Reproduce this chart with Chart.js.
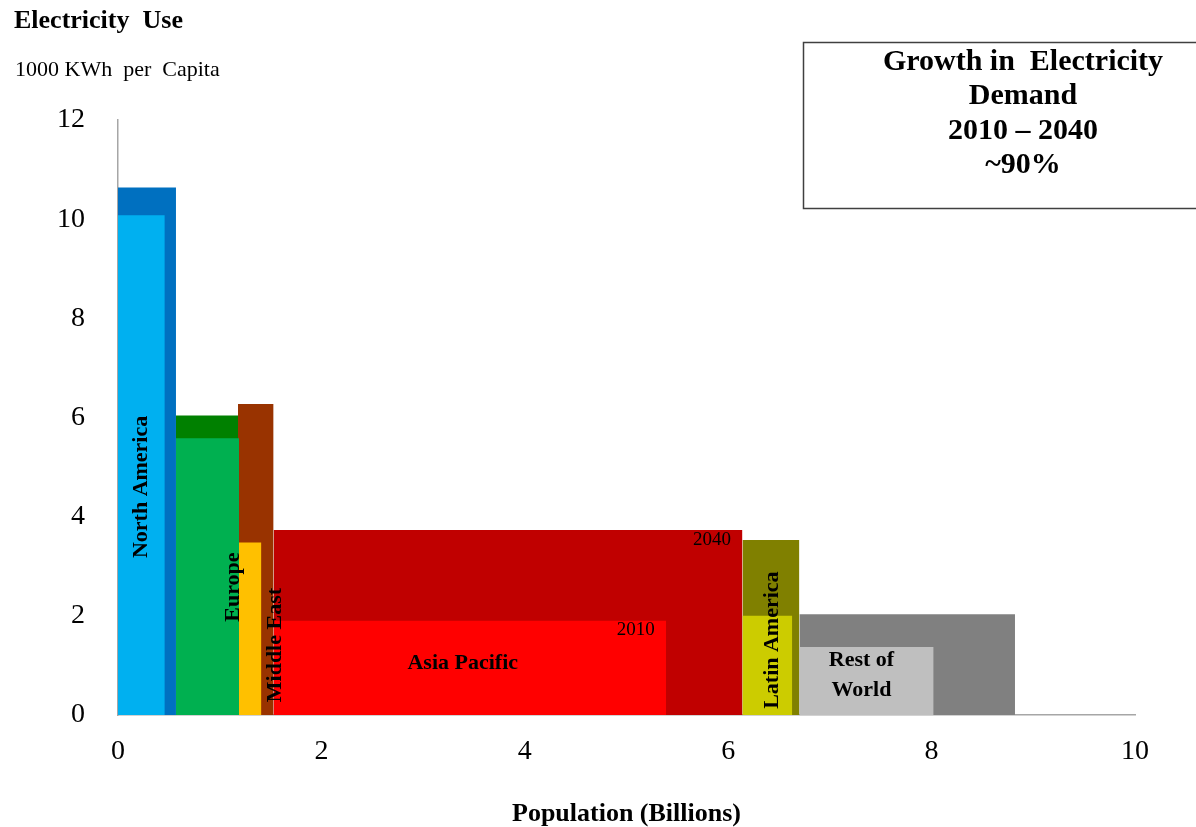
<!DOCTYPE html>
<html lang="en">
<head>
    <meta charset="UTF-8">
    <title>Electricity Use per Capita vs Population</title>
    <script src="https://cdn.jsdelivr.net/npm/chart.js"></script>
    <style>
        html, body { margin: 0; padding: 0; background: #fff; }
        .chart-box { width: 1196px; height: 827px; }
    </style>
</head>
<body>

<div class="chart-box">
    <canvas id="myChart" width="1196" height="827"></canvas>
</div>

<script>
    // regions, population (billions) and electricity use (1000 KWh per capita)
    const regions = ["North America", "Europe", "Middle East", "Asia Pacific", "Latin America", "Rest of World"];
    const pop2040 = [0.57, 0.61, 0.35, 4.61, 0.56, 2.12];
    const pop2010 = [0.46, 0.62, 0.23, 3.86, 0.49, 1.32];
    const use2040 = [10.64, 6.04, 6.27, 3.73, 3.53, 2.03];
    const use2010 = [10.08, 5.58, 3.48, 1.90, 2.00, 1.37];

    const xTicks = [0, 2, 4, 6, 8, 10];
    const yTicks = [0, 2, 4, 6, 8, 10, 12];

    const colors2040 = ["#0070C0", "#008000", "#993300", "#C00000", "#808000", "#808080"];
    const colors2010 = ["#00B0F0", "#00B050", "#FFC000", "#FF0000", "#CCCC00", "#BFBFBF"];

    const serif = '"Liberation Serif", "Times New Roman", serif';

    // each region starts where the previous 2040 block ends
    const starts = [];
    let acc = 0;
    pop2040.forEach(p => { starts.push(acc); acc += p; });

    function block(x0, w, h) {
        return [{x: x0, y: 0}, {x: x0, y: h}, {x: x0 + w, y: h}, {x: x0 + w, y: 0}];
    }

    const datasets = [];
    regions.forEach((name, i) => {
        datasets.push({
            label: name + " 2040",
            data: block(starts[i], pop2040[i], use2040[i]),
            backgroundColor: colors2040[i],
            order: 2
        });
        datasets.push({
            label: name + " 2010",
            data: block(starts[i], pop2010[i], use2010[i]),
            backgroundColor: colors2010[i],
            order: 1
        });
    });
    datasets.forEach(d => {
        d.fill = 'origin';
        d.borderWidth = 0;
        d.pointRadius = 0;
        d.tension = 0;
    });

    // text placed in data units
    const regionLabels = [
        {text: ["North America"], x: 0.23, y: 4.6, rotate: true, bold: true},
        {text: ["Europe"], x: 1.135, y: 2.58, rotate: true, bold: true},
        {text: ["Middle East"], x: 1.55, y: 1.41, rotate: true, bold: true},
        {text: ["Latin America"], x: 6.43, y: 1.51, rotate: true, bold: true},
        {text: ["Asia Pacific"], x: 3.39, y: 1.05, rotate: false, bold: true},
        {text: ["Rest of", "World"], x: 7.31, y: 0.81, rotate: false, bold: true},
        {text: ["2040"], x: 5.84, y: 3.53, rotate: false, bold: false},
        {text: ["2010"], x: 5.09, y: 1.71, rotate: false, bold: false}
    ];

    const annotations = {
        id: 'annotations',
        afterDatasetsDraw(chart) {
            const c = chart.ctx;
            const xs = chart.scales.x, ys = chart.scales.y;
            c.save();
            c.fillStyle = '#000';
            c.textAlign = 'center';
            c.textBaseline = 'middle';
            regionLabels.forEach(l => {
                const px = xs.getPixelForValue(l.x);
                const py = ys.getPixelForValue(l.y);
                c.font = (l.bold ? 'bold 22px ' : '19px ') + serif;
                c.save();
                c.translate(px, py);
                if (l.rotate) c.rotate(-Math.PI / 2);
                const lh = 30;
                l.text.forEach((t, k) => {
                    c.fillText(t, 0, (k - (l.text.length - 1) / 2) * lh);
                });
                c.restore();
            });

            // axis header top left
            c.textAlign = 'left';
            c.font = 'bold 26px ' + serif;
            c.fillText('Electricity  Use', 14, 21);
            c.font = '22px ' + serif;
            c.fillText('1000 KWh  per  Capita', 15, 70);

            // box top right
            c.strokeStyle = '#404040';
            c.lineWidth = 1.5;
            c.strokeRect(803.5, 42.5, 420, 166);
            c.textAlign = 'center';
            c.font = 'bold 30px ' + serif;
            ['Growth in  Electricity', 'Demand', '2010 \u2013 2040', '~90%'].forEach((t, k) => {
                c.fillText(t, 1023, 62 + k * 34.5);
            });
            c.restore();
        }
    };

    const ctx = document.getElementById('myChart').getContext('2d');

    new Chart(ctx, {
        type: 'line',
        data: { datasets: datasets },
        options: {
            responsive: false,
            animation: false,
            layout: { padding: { top: 120, right: 61, left: 0, bottom: 0 } },
            plugins: {
                legend: { display: false },
                tooltip: { enabled: false }
            },
            scales: {
                x: {
                    type: 'linear',
                    min: 0,
                    max: 10,
                    afterFit: s => { s.height = 112; },
                    afterBuildTicks: s => { s.ticks = xTicks.map(v => ({value: v})); },
                    grid: { display: false, drawTicks: false },
                    border: { display: true, color: '#a6a6a6', width: 1.5 },
                    ticks: { padding: 20, color: '#000', font: { family: serif, size: 28 } },
                    title: {
                        display: true,
                        text: 'Population (Billions)',
                        color: '#000',
                        font: { family: serif, size: 26, weight: 'bold' },
                        padding: { top: 0, bottom: -3 }
                    }
                },
                y: {
                    min: 0,
                    max: 12,
                    afterFit: s => { s.width = 118; },
                    afterBuildTicks: s => { s.ticks = yTicks.map(v => ({value: v})); },
                    grid: { display: false, drawTicks: false },
                    border: { display: true, color: '#a6a6a6', width: 1.5 },
                    ticks: { padding: 33, color: '#000', font: { family: serif, size: 28 } }
                }
            }
        },
        plugins: [annotations]
    });
</script>

</body>
</html>
